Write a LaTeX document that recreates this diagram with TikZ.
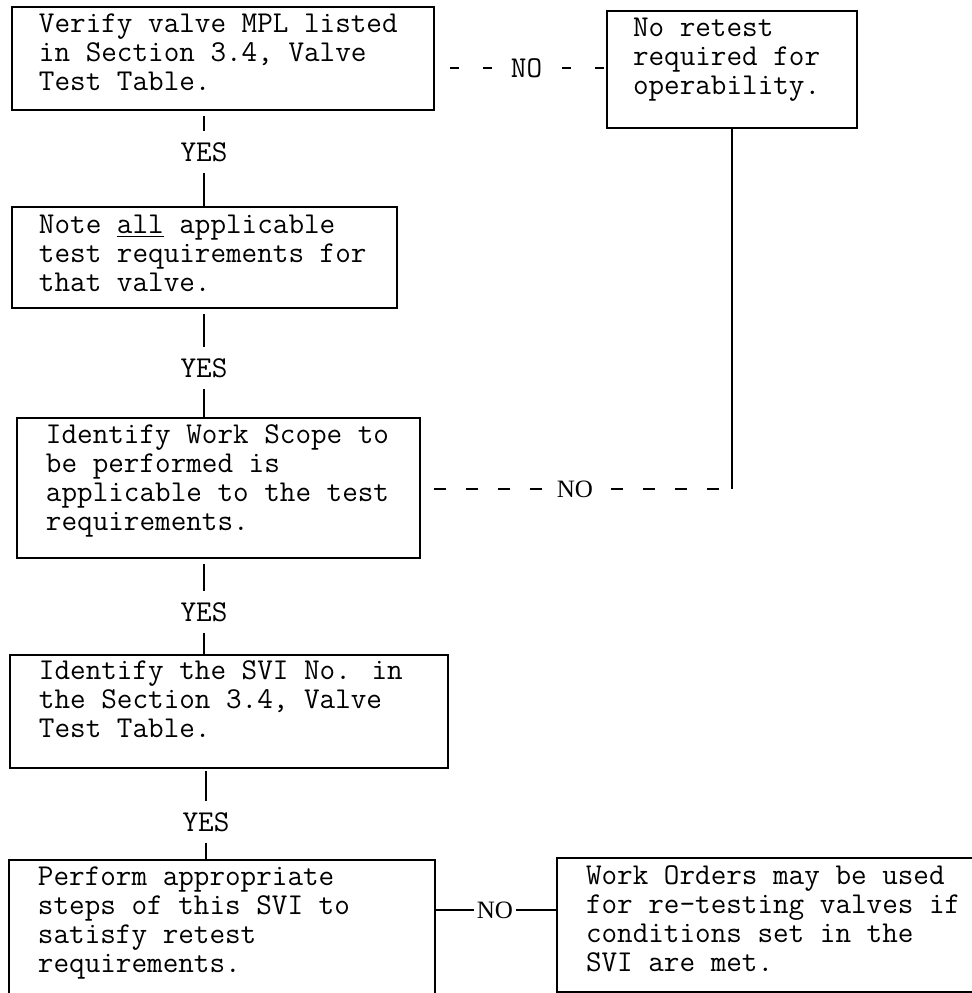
\documentclass[tikz,border=0pt]{standalone}
\usepackage{fontspec}
\newfontfamily\nofont{Liberation Serif}
\usetikzlibrary{fit}
\begin{document}
\begin{tikzpicture}[x=0.5pt,y=-0.5pt,line width=1pt,
  box/.style={draw,inner sep=0pt},
  txt/.style={anchor=north west,inner sep=0pt,align=left,font=\ttfamily\fontsize{15.14}{14.5}\selectfont},
  yes/.style={inner xsep=2pt,inner ysep=5pt,font=\ttfamily\fontsize{15.14}{14.5}\selectfont},
  nomono/.style={inner xsep=2pt,inner ysep=1pt,font=\ttfamily\fontsize{15.14}{14.5}\selectfont},
  noserif/.style={inner xsep=2pt,inner ysep=1pt,font=\nofont\fontsize{12.5}{14}\selectfont},
  noserift/.style={inner xsep=1pt,inner ysep=1pt,font=\nofont\fontsize{12.5}{14}\selectfont},
  dashA/.style={dash pattern=on 4.5pt off 12pt,dash phase=9pt},
  dashB/.style={dash pattern=on 6pt off 10pt,dash phase=9.5pt}]
\clip (0,0) rectangle (972,993);
% boxes
\node[box,fit={(12,7) (434,110)}] (b1) {};
\node[box,fit={(607,11) (857,128)}] (bR) {};
\node[box,fit={(12,207) (397,308)}] (b2) {};
\node[box,fit={(17,418) (420,558)}] (b3) {};
\node[box,fit={(10,655) (448,768)}] (b4) {};
\node[box,fit={(9,860) (435,1020)}] (b5) {};
\node[box,fit={(557,858) (1000,992)}] (b6) {};
% texts
\node[txt] (t1) at (38,10.7) {\strut Verify valve MPL listed\\in Section 3.4, Valve\\Test Table.};
\node[txt] (tR) at (632,14.7) {\strut No retest\\required for\\operability.};
\node[txt] (t2) at (38,211.7) {\strut Note \underline{all} applicable\\test requirements for\\that valve.};
\node[txt] (t3) at (45,421.7) {\strut Identify Work Scope to\\be performed is\\applicable to the test\\requirements.};
\node[txt] (t4) at (38,657.7) {\strut Identify the SVI No. in\\the Section 3.4, Valve\\Test Table.};
\node[txt] (t5) at (37,863.7) {\strut Perform appropriate\\steps of this SVI to\\satisfy retest\\requirements.};
\node[txt] (t6) at (585,862.7) {\strut Work Orders may be used\\for re-testing valves if\\conditions set in the\\SVI are met.};
% YES connectors
\node[yes] (y1) at (204,152) {YES};
\node[yes] (y2) at (204,368) {YES};
\node[yes] (y3) at (204,612) {YES};
\node[yes] (y4) at (206,822) {YES};
\draw[shorten <=2.5pt] (y1 |- b1.south) -- (y1.north);
\draw (y1.south) -- (y1 |- b2.north);
\draw[shorten <=2.5pt] (y2 |- b2.south) -- (y2.north);
\draw (y2.south) -- (y2 |- b3.north);
\draw[shorten <=2.5pt] (y3 |- b3.south) -- (y3.north);
\draw (y3.south) -- (y3 |- b4.north);
\draw[shorten <=1pt] (y4 |- b4.south) -- (y4.north);
\draw (y4.south) -- (y4 |- b5.north);
% top NO (dashed)
\node[nomono] (n1) at (526.5,68) {NO};
\draw[dashA] (n1 -| b1.east) -- (n1.west);
\draw[dashA] (n1.east) -- (n1 -| bR.west);
% middle NO (dashed) to line from bR
\node[noserif] (n2) at (575,489) {NO};
\coordinate (c) at (bR.south |- n2);
\draw (bR.south) -- (c);
\draw[dashB] (n2 -| b3.east) -- (n2.west);
\draw[dashB] (n2.east) -- (c);
% bottom NO (solid)
\node[noserift] (n3) at (495,910) {NO};
\draw (n3 -| b5.east) -- (n3.west);
\draw (n3.east) -- (n3 -| b6.west);
\end{tikzpicture}
\end{document}
